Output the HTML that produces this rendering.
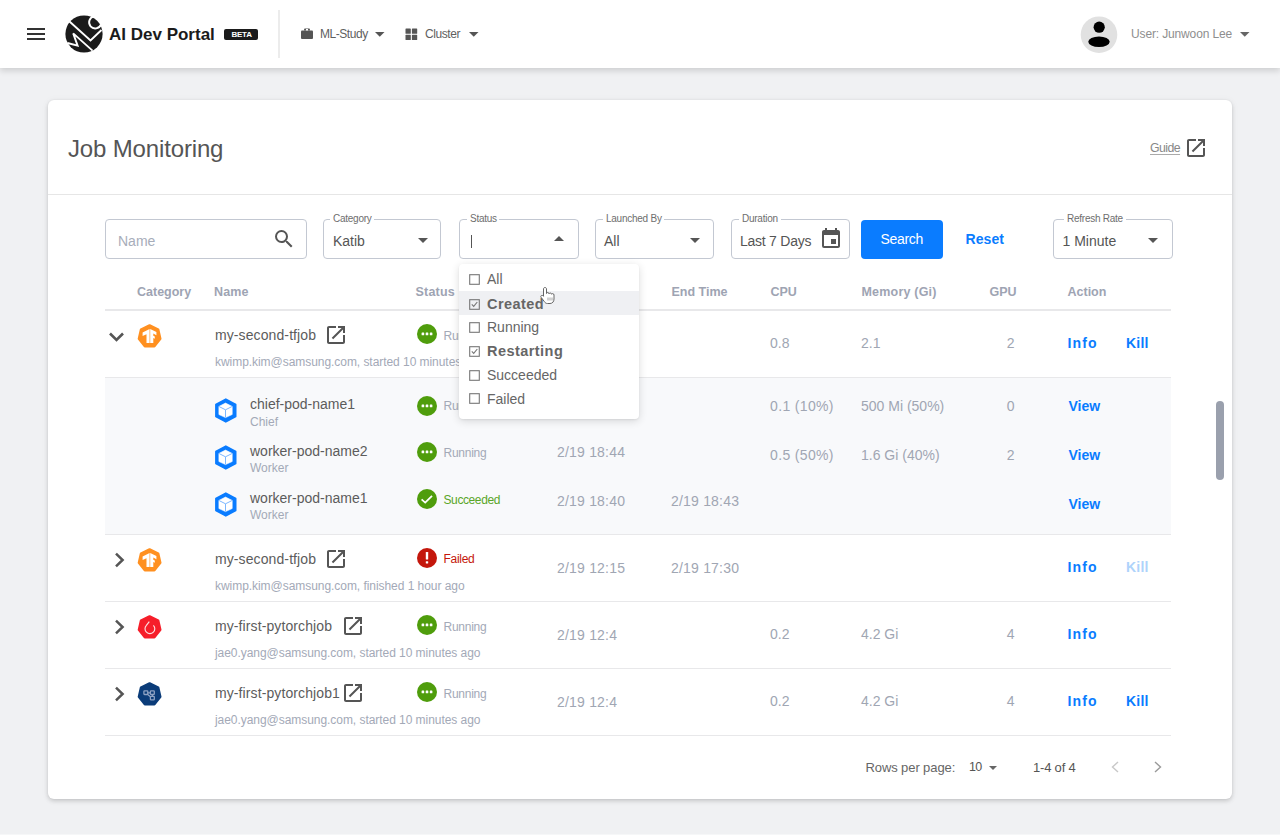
<!DOCTYPE html>
<html><head><meta charset="utf-8"><title>Job Monitoring</title>
<style>
html,body{margin:0;padding:0;}
body{width:1280px;height:835px;overflow:hidden;position:relative;background:#f0f1f3;font-family:"Liberation Sans","DejaVu Sans",sans-serif;}
.a{position:absolute;}
.t{position:absolute;white-space:nowrap;}
svg.a{overflow:visible}
</style></head><body>
<div class="a" style="left:0px;top:0px;width:1280px;height:68px;background:#fff;box-shadow:0 3px 6px rgba(0,0,0,0.14)"></div>
<div class="a" style="left:27px;top:28px;width:18px;height:2px;background:#333"></div>
<div class="a" style="left:27px;top:33px;width:18px;height:2px;background:#333"></div>
<div class="a" style="left:27px;top:38px;width:18px;height:2px;background:#333"></div>
<svg class="a" style="left:64px;top:14px" width="40" height="40" viewBox="0 0 40 40"><circle cx="20" cy="20" r="18.6" fill="#1b1b1b"/>
<g fill="none" stroke="#fff" stroke-width="1.9" stroke-linejoin="miter" stroke-linecap="butt">
<path d="M5.5 7.5 L26.5 26.5 L37.5 16"/>
<path d="M3.5 29 L13.6 31.6 L9.2 19.4 L28.5 36.6"/>
<path d="M29.9 2.4 A6.1 6.1 0 1 0 36.9 10.6"/>
</g></svg>
<span class="t " style="left:109px;top:26.20px;font-size:17px;line-height:17px;color:#1b1b1b;font-weight:700;">AI Dev Portal</span>
<div class="a" style="left:224px;top:28.5px;width:34px;height:11.5px;background:#1b1b1b;border-radius:2px"></div>
<span class="t " style="left:231.5px;top:31.10px;font-size:8px;line-height:8px;color:#fff;font-weight:700;letter-spacing:-0.25px;">BETA</span>
<div class="a" style="left:277.5px;top:10px;width:2px;height:48px;background:#ececec"></div>
<svg class="a" style="left:300px;top:27px" width="14" height="13" viewBox="0 0 14 13"><path d="M5 1.5h4a1 1 0 0 1 1 1V3.5H4V2.5a1 1 0 0 1 1-1z" fill="#555"/><rect x="1" y="3.5" width="12" height="8.5" rx="1" fill="#555"/><rect x="6" y="2" width="2" height="1.5" fill="#fff"/></svg>
<span class="t " style="left:320px;top:28.40px;font-size:12px;line-height:12px;color:#5f5f5f;letter-spacing:-0.45px;">ML-Study</span>
<svg class="a" style="left:375px;top:32px" width="10" height="5" viewBox="0 0 10 5"><path d="M0 0h9.5L4.75 4.7z" fill="#555"/></svg>
<svg class="a" style="left:405px;top:28px" width="13" height="13" viewBox="0 0 13 13"><rect x="0.5" y="0.5" width="5.3" height="5.3" rx="0.6" fill="#555"/><rect x="6.9" y="0.5" width="5.3" height="5.3" rx="0.6" fill="#555"/><rect x="0.5" y="6.8" width="5.3" height="5.3" rx="0.6" fill="#555"/><rect x="6.9" y="6.8" width="5.3" height="5.3" rx="0.6" fill="#555"/></svg>
<span class="t " style="left:425px;top:28.40px;font-size:12px;line-height:12px;color:#5f5f5f;letter-spacing:-0.43px;">Cluster</span>
<svg class="a" style="left:468.5px;top:32px" width="10" height="5" viewBox="0 0 10 5"><path d="M0 0h9.5L4.75 4.7z" fill="#555"/></svg>
<svg class="a" style="left:1080px;top:16px" width="38" height="38" viewBox="0 0 38 38"><circle cx="19" cy="18.7" r="18.3" fill="#e1e1e1"/><circle cx="19.2" cy="11.2" r="5.6" fill="#000"/><ellipse cx="19" cy="25.8" rx="10.7" ry="5.3" fill="#000"/></svg>
<span class="t " style="left:1131px;top:28.40px;font-size:12px;line-height:12px;color:#8e8e8e;letter-spacing:-0.14px;">User: Junwoon Lee</span>
<svg class="a" style="left:1239.5px;top:32.3px" width="10" height="5" viewBox="0 0 10 5"><path d="M0 0h9.5L4.75 4.7z" fill="#666"/></svg>
<div class="a" style="left:48px;top:100px;width:1184px;height:699px;background:#fff;border-radius:6px;box-shadow:0 2px 4px rgba(0,0,0,0.15), 0 1px 8px rgba(0,0,0,0.05), 0 0 2px rgba(0,0,0,0.05)"></div>
<span class="t " style="left:68px;top:136.90px;font-size:24px;line-height:24px;color:#555;letter-spacing:-0.15px;">Job Monitoring</span>
<span class="t " style="left:1150px;top:141.55px;font-size:12.3px;line-height:12.3px;color:#888;letter-spacing:-0.55px;text-decoration:underline;text-decoration-color:#aaa;text-underline-offset:2px;">Guide</span>
<svg class="a" style="left:1184px;top:136px" width="24" height="24" viewBox="0 0 24 24"><path d="M19 19H5V5h7V3H5c-1.11 0-2 .9-2 2v14c0 1.1.89 2 2 2h14c1.1 0 2-.9 2-2v-7h-2v7zM14 3v2h3.59l-9.83 9.83 1.41 1.41L19 6.41V10h2V3h-7z" fill="#555"/></svg>
<div class="a" style="left:48px;top:193.5px;width:1184px;height:1.5px;background:#e6e6e6"></div>
<div class="a" style="left:105px;top:219px;width:202px;height:40px;border:1px solid #c3c8d2;border-radius:4px;box-sizing:border-box;background:#fff"></div>
<span class="t " style="left:118px;top:233.60px;font-size:14px;line-height:14px;color:#a7adba;">Name</span>
<svg class="a" style="left:272px;top:227px" width="24" height="24" viewBox="0 0 24 24"><path d="M15.5 14h-.79l-.28-.27A6.471 6.471 0 0 0 16 9.5 6.5 6.5 0 1 0 9.5 16c1.61 0 3.09-.59 4.23-1.57l.27.28v.79l5 4.99L20.49 19l-4.99-5zm-6 0C7.01 14 5 11.99 5 9.5S7.01 5 9.5 5 14 7.01 14 9.5 11.99 14 9.5 14z" fill="#555"/></svg>
<div class="a" style="left:323px;top:219px;width:118px;height:40px;border:1px solid #c3c8d2;border-radius:4px;box-sizing:border-box;background:#fff"></div>
<div class="a" style="left:329.5px;top:217px;width:44px;height:4px;background:#fff"></div>
<span class="t " style="left:333px;top:213.70px;font-size:10px;line-height:10px;color:#6e6e6e;letter-spacing:-0.25px;">Category</span>
<span class="t " style="left:333px;top:233.50px;font-size:14px;line-height:14px;color:#555;">Katib</span>
<svg class="a" style="left:418px;top:238px" width="10" height="5" viewBox="0 0 10 5"><path d="M0 0h10L5 5z" fill="#555"/></svg>
<div class="a" style="left:459px;top:219px;width:120px;height:40px;border:1px solid #c3c8d2;border-radius:4px;box-sizing:border-box;background:#fff"></div>
<div class="a" style="left:466.5px;top:217px;width:32.5px;height:4px;background:#fff"></div>
<span class="t " style="left:470px;top:213.70px;font-size:10px;line-height:10px;color:#6e6e6e;letter-spacing:-0.25px;">Status</span>
<div class="a" style="left:470.5px;top:234.5px;width:1px;height:13px;background:#555"></div>
<svg class="a" style="left:554px;top:236px" width="10" height="5" viewBox="0 0 10 5"><path d="M0 5h10L5 0z" fill="#555"/></svg>
<div class="a" style="left:595px;top:219px;width:119px;height:40px;border:1px solid #c3c8d2;border-radius:4px;box-sizing:border-box;background:#fff"></div>
<div class="a" style="left:602.5px;top:217px;width:61.5px;height:4px;background:#fff"></div>
<span class="t " style="left:606px;top:213.70px;font-size:10px;line-height:10px;color:#6e6e6e;letter-spacing:-0.25px;">Launched By</span>
<span class="t " style="left:604px;top:233.50px;font-size:14px;line-height:14px;color:#555;">All</span>
<svg class="a" style="left:690px;top:238px" width="10" height="5" viewBox="0 0 10 5"><path d="M0 0h10L5 5z" fill="#555"/></svg>
<div class="a" style="left:731px;top:219px;width:119px;height:40px;border:1px solid #c3c8d2;border-radius:4px;box-sizing:border-box;background:#fff"></div>
<div class="a" style="left:738.5px;top:217px;width:42px;height:4px;background:#fff"></div>
<span class="t " style="left:742px;top:213.70px;font-size:10px;line-height:10px;color:#6e6e6e;letter-spacing:-0.25px;">Duration</span>
<span class="t " style="left:740px;top:233.50px;font-size:14px;line-height:14px;color:#555;letter-spacing:-0.25px;">Last 7 Days</span>
<svg class="a" style="left:819px;top:227px" width="24" height="24" viewBox="0 0 24 24"><path d="M17 12h-5v5h5v-5zM16 1v2H8V1H6v2H5c-1.11 0-1.99.9-1.99 2L3 19a2 2 0 0 0 2 2h14c1.1 0 2-.9 2-2V5c0-1.1-.9-2-2-2h-1V1h-2zm3 18H5V8h14v11z" fill="#555"/></svg>
<div class="a" style="left:861px;top:219.5px;width:82px;height:39.5px;background:#0a7cff;border-radius:4px"></div>
<span class="t " style="left:880.5px;top:231.80px;font-size:14px;line-height:14px;color:#fff;letter-spacing:-0.3px;">Search</span>
<span class="t " style="left:965.5px;top:231.80px;font-size:14px;line-height:14px;color:#0a7cff;font-weight:700;letter-spacing:0.1px;">Reset</span>
<div class="a" style="left:1053px;top:219px;width:120px;height:40px;border:1px solid #c3c8d2;border-radius:4px;box-sizing:border-box;background:#fff"></div>
<div class="a" style="left:1063.5px;top:217px;width:62px;height:4px;background:#fff"></div>
<span class="t " style="left:1067px;top:213.70px;font-size:10px;line-height:10px;color:#6e6e6e;letter-spacing:-0.25px;">Refresh Rate</span>
<span class="t " style="left:1062.5px;top:233.50px;font-size:14px;line-height:14px;color:#555;">1 Minute</span>
<svg class="a" style="left:1148px;top:238px" width="10" height="5" viewBox="0 0 10 5"><path d="M0 0h10L5 5z" fill="#555"/></svg>
<span class="t " style="left:137px;top:285.75px;font-size:12.5px;line-height:12.5px;color:#9ea4b3;font-weight:700;">Category</span>
<span class="t " style="left:214px;top:285.75px;font-size:12.5px;line-height:12.5px;color:#9ea4b3;font-weight:700;letter-spacing:0.1px;">Name</span>
<span class="t " style="left:415.5px;top:285.75px;font-size:12.5px;line-height:12.5px;color:#9ea4b3;font-weight:700;letter-spacing:0.2px;">Status</span>
<span class="t " style="left:671.5px;top:285.75px;font-size:12.5px;line-height:12.5px;color:#9ea4b3;font-weight:700;">End Time</span>
<span class="t " style="left:770.5px;top:285.75px;font-size:12.5px;line-height:12.5px;color:#9ea4b3;font-weight:700;">CPU</span>
<span class="t " style="left:861.5px;top:285.75px;font-size:12.5px;line-height:12.5px;color:#9ea4b3;font-weight:700;letter-spacing:0.2px;">Memory (Gi)</span>
<span class="t " style="left:989.5px;top:285.75px;font-size:12.5px;line-height:12.5px;color:#9ea4b3;font-weight:700;">GPU</span>
<span class="t " style="left:1067.5px;top:285.75px;font-size:12.5px;line-height:12.5px;color:#9ea4b3;font-weight:700;">Action</span>
<div class="a" style="left:105px;top:309px;width:1066px;height:1.5px;background:#e8e8ea"></div>
<div class="a" style="left:105px;top:377.5px;width:1066px;height:156px;background:#f8f9fb"></div>
<div class="a" style="left:105px;top:376.5px;width:1066px;height:1.5px;background:#e8e8ea"></div>
<div class="a" style="left:105px;top:533.5px;width:1066px;height:1.5px;background:#e8e8ea"></div>
<div class="a" style="left:105px;top:600.5px;width:1066px;height:1.5px;background:#e8e8ea"></div>
<div class="a" style="left:105px;top:667.5px;width:1066px;height:1.5px;background:#e8e8ea"></div>
<div class="a" style="left:105px;top:734.5px;width:1066px;height:1.5px;background:#e8e8ea"></div>
<svg class="a" style="left:107.5px;top:330.7px" width="18" height="12" viewBox="0 0 18 12"><path d="M2 2.5 L8.5 9 L15 2.5" fill="none" stroke="#555" stroke-width="2.6"/></svg>
<svg class="a" style="left:136.5px;top:322.6px" width="26" height="26" viewBox="0 0 26 26"><polygon points="12.60,2.40 21.20,6.54 23.32,15.85 17.37,23.31 7.83,23.31 1.88,15.85 4.00,6.54" fill="#ff9020" stroke="#ff9020" stroke-width="2.4" stroke-linejoin="round"/><path d="M5.6 9.4 L12.6 5.9 L12.6 20 L9.5 20 L9.5 11.2 L5.6 13.0 Z" fill="#fff"/><path d="M13.2 5.9 L19.4 9.1 L19.4 12.2 L16.3 10.6 L16.3 12.7 L17.8 13.4 L17.8 15.7 L16.3 14.9 L16.3 20 L13.2 20 Z" fill="#fff"/></svg>
<span class="t " style="left:215px;top:327.80px;font-size:14px;line-height:14px;color:#5c5c5c;letter-spacing:0.1px;">my-second-tfjob</span>
<svg class="a" style="left:324px;top:323px" width="24" height="24" viewBox="0 0 24 24"><path d="M19 19H5V5h7V3H5c-1.11 0-2 .9-2 2v14c0 1.1.89 2 2 2h14c1.1 0 2-.9 2-2v-7h-2v7zM14 3v2h3.59l-9.83 9.83 1.41 1.41L19 6.41V10h2V3h-7z" fill="#555"/></svg>
<span class="t " style="left:215px;top:356.00px;font-size:12px;line-height:12px;color:#a3a9b7;letter-spacing:-0.05px;">kwimp.kim@samsung.com, started 10 minutes ago</span>
<svg class="a" style="left:416px;top:323.4px" width="22" height="22" viewBox="0 0 22 22"><circle cx="11" cy="11" r="10" fill="#4f9d0c"/><g fill="#fff"><rect x="5.6" y="9.6" width="2.6" height="2.6" rx="0.5"/><rect x="9.7" y="9.6" width="2.6" height="2.6" rx="0.5"/><rect x="13.8" y="9.6" width="2.6" height="2.6" rx="0.5"/></g></svg>
<span class="t " style="left:443.5px;top:329.50px;font-size:12px;line-height:12px;color:#a3a9b7;letter-spacing:-0.25px;">Running</span>
<span class="t " style="left:770px;top:335.50px;font-size:14px;line-height:14px;color:#a0a6b3;">0.8</span>
<span class="t " style="left:861px;top:335.50px;font-size:14px;line-height:14px;color:#a0a6b3;">2.1</span>
<span class="t" style="right:265.5px;top:335.50px;font-size:14px;line-height:14px;color:#a0a6b3;">2</span>
<span class="t " style="left:1067.6px;top:335.80px;font-size:14px;line-height:14px;color:#0a7cff;font-weight:700;letter-spacing:1.1px;">Info</span>
<span class="t " style="left:1126px;top:335.50px;font-size:14px;line-height:14px;color:#0a7cff;font-weight:700;letter-spacing:0.2px;">Kill</span>
<svg class="a" style="left:113.6px;top:551.8px" width="12" height="16" viewBox="0 0 12 16"><path d="M2 1.6 L8.6 8 L2 14.4" fill="none" stroke="#555" stroke-width="2.5"/></svg>
<svg class="a" style="left:136.5px;top:546.6px" width="26" height="26" viewBox="0 0 26 26"><polygon points="12.60,2.40 21.20,6.54 23.32,15.85 17.37,23.31 7.83,23.31 1.88,15.85 4.00,6.54" fill="#ff9020" stroke="#ff9020" stroke-width="2.4" stroke-linejoin="round"/><path d="M5.6 9.4 L12.6 5.9 L12.6 20 L9.5 20 L9.5 11.2 L5.6 13.0 Z" fill="#fff"/><path d="M13.2 5.9 L19.4 9.1 L19.4 12.2 L16.3 10.6 L16.3 12.7 L17.8 13.4 L17.8 15.7 L16.3 14.9 L16.3 20 L13.2 20 Z" fill="#fff"/></svg>
<span class="t " style="left:215px;top:551.80px;font-size:14px;line-height:14px;color:#5c5c5c;letter-spacing:0.1px;">my-second-tfjob</span>
<svg class="a" style="left:324px;top:547px" width="24" height="24" viewBox="0 0 24 24"><path d="M19 19H5V5h7V3H5c-1.11 0-2 .9-2 2v14c0 1.1.89 2 2 2h14c1.1 0 2-.9 2-2v-7h-2v7zM14 3v2h3.59l-9.83 9.83 1.41 1.41L19 6.41V10h2V3h-7z" fill="#555"/></svg>
<span class="t " style="left:215px;top:580.00px;font-size:12px;line-height:12px;color:#a3a9b7;letter-spacing:-0.05px;">kwimp.kim@samsung.com, finished 1 hour ago</span>
<svg class="a" style="left:416px;top:547.2px" width="22" height="22" viewBox="0 0 22 22"><circle cx="11" cy="11" r="10" fill="#c4170c"/><rect x="9.8" y="5" width="2.4" height="7.6" rx="0.6" fill="#fff"/><rect x="9.8" y="14.2" width="2.4" height="2.4" rx="0.6" fill="#fff"/></svg>
<span class="t " style="left:443.5px;top:553.20px;font-size:12px;line-height:12px;color:#c4170c;letter-spacing:-0.3px;">Failed</span>
<span class="t " style="left:557px;top:560.70px;font-size:14px;line-height:14px;color:#a0a6b3;letter-spacing:0.2px;">2/19 12:15</span>
<span class="t " style="left:671px;top:560.70px;font-size:14px;line-height:14px;color:#a0a6b3;letter-spacing:0.2px;">2/19 17:30</span>
<span class="t " style="left:1067.6px;top:559.80px;font-size:14px;line-height:14px;color:#0a7cff;font-weight:700;letter-spacing:1.1px;">Info</span>
<span class="t " style="left:1126px;top:559.50px;font-size:14px;line-height:14px;color:#aed3fb;font-weight:700;letter-spacing:0.2px;">Kill</span>
<svg class="a" style="left:113.6px;top:618.8px" width="12" height="16" viewBox="0 0 12 16"><path d="M2 1.6 L8.6 8 L2 14.4" fill="none" stroke="#555" stroke-width="2.5"/></svg>
<svg class="a" style="left:136.5px;top:613.6px" width="26" height="26" viewBox="0 0 26 26"><polygon points="12.60,2.40 21.20,6.54 23.32,15.85 17.37,23.31 7.83,23.31 1.88,15.85 4.00,6.54" fill="#f61e2a" stroke="#f61e2a" stroke-width="2.4" stroke-linejoin="round"/><path d="M12.3 7.6 L9.4 11.3 A4.9 4.9 0 1 0 16.4 11.3" fill="none" stroke="#fff" stroke-opacity="0.85" stroke-width="1.15" stroke-linejoin="round"/></svg>
<span class="t " style="left:215px;top:618.80px;font-size:14px;line-height:14px;color:#5c5c5c;letter-spacing:0.1px;">my-first-pytorchjob</span>
<svg class="a" style="left:340.7px;top:614px" width="24" height="24" viewBox="0 0 24 24"><path d="M19 19H5V5h7V3H5c-1.11 0-2 .9-2 2v14c0 1.1.89 2 2 2h14c1.1 0 2-.9 2-2v-7h-2v7zM14 3v2h3.59l-9.83 9.83 1.41 1.41L19 6.41V10h2V3h-7z" fill="#555"/></svg>
<span class="t " style="left:215px;top:647.00px;font-size:12px;line-height:12px;color:#a3a9b7;letter-spacing:-0.05px;">jae0.yang@samsung.com, started 10 minutes ago</span>
<svg class="a" style="left:416px;top:614.4px" width="22" height="22" viewBox="0 0 22 22"><circle cx="11" cy="11" r="10" fill="#4f9d0c"/><g fill="#fff"><rect x="5.6" y="9.6" width="2.6" height="2.6" rx="0.5"/><rect x="9.7" y="9.6" width="2.6" height="2.6" rx="0.5"/><rect x="13.8" y="9.6" width="2.6" height="2.6" rx="0.5"/></g></svg>
<span class="t " style="left:443.5px;top:620.50px;font-size:12px;line-height:12px;color:#a3a9b7;letter-spacing:-0.25px;">Running</span>
<span class="t " style="left:557px;top:627.70px;font-size:14px;line-height:14px;color:#a0a6b3;letter-spacing:0.2px;">2/19 12:4</span>
<span class="t " style="left:770px;top:626.50px;font-size:14px;line-height:14px;color:#a0a6b3;">0.2</span>
<span class="t " style="left:861px;top:626.50px;font-size:14px;line-height:14px;color:#a0a6b3;">4.2 Gi</span>
<span class="t" style="right:265.5px;top:626.50px;font-size:14px;line-height:14px;color:#a0a6b3;">4</span>
<span class="t " style="left:1067.6px;top:626.80px;font-size:14px;line-height:14px;color:#0a7cff;font-weight:700;letter-spacing:1.1px;">Info</span>
<svg class="a" style="left:113.6px;top:685.8px" width="12" height="16" viewBox="0 0 12 16"><path d="M2 1.6 L8.6 8 L2 14.4" fill="none" stroke="#555" stroke-width="2.5"/></svg>
<svg class="a" style="left:136.5px;top:680.6px" width="26" height="26" viewBox="0 0 26 26"><polygon points="12.60,2.40 21.20,6.54 23.32,15.85 17.37,23.31 7.83,23.31 1.88,15.85 4.00,6.54" fill="#0b3c79" stroke="#0b3c79" stroke-width="2.4" stroke-linejoin="round"/><g fill="none" stroke="#8ea2c4" stroke-width="1.3"><rect x="6.9" y="9.9" width="3.9" height="3.6" rx="0.7"/><rect x="13.4" y="9.9" width="3.9" height="3.6" rx="0.7"/><rect x="13.4" y="15.3" width="3.9" height="3.6" rx="0.7"/><path d="M10.5 11.9 H13.6 M15.4 13.6 V15.6 M10.3 13.3 L13.8 15.9"/></g></svg>
<span class="t " style="left:215px;top:685.80px;font-size:14px;line-height:14px;color:#5c5c5c;letter-spacing:0.1px;">my-first-pytorchjob1</span>
<svg class="a" style="left:340.7px;top:681px" width="24" height="24" viewBox="0 0 24 24"><path d="M19 19H5V5h7V3H5c-1.11 0-2 .9-2 2v14c0 1.1.89 2 2 2h14c1.1 0 2-.9 2-2v-7h-2v7zM14 3v2h3.59l-9.83 9.83 1.41 1.41L19 6.41V10h2V3h-7z" fill="#555"/></svg>
<span class="t " style="left:215px;top:714.00px;font-size:12px;line-height:12px;color:#a3a9b7;letter-spacing:-0.05px;">jae0.yang@samsung.com, started 10 minutes ago</span>
<svg class="a" style="left:416px;top:681.4px" width="22" height="22" viewBox="0 0 22 22"><circle cx="11" cy="11" r="10" fill="#4f9d0c"/><g fill="#fff"><rect x="5.6" y="9.6" width="2.6" height="2.6" rx="0.5"/><rect x="9.7" y="9.6" width="2.6" height="2.6" rx="0.5"/><rect x="13.8" y="9.6" width="2.6" height="2.6" rx="0.5"/></g></svg>
<span class="t " style="left:443.5px;top:687.50px;font-size:12px;line-height:12px;color:#a3a9b7;letter-spacing:-0.25px;">Running</span>
<span class="t " style="left:557px;top:694.70px;font-size:14px;line-height:14px;color:#a0a6b3;letter-spacing:0.2px;">2/19 12:4</span>
<span class="t " style="left:770px;top:693.50px;font-size:14px;line-height:14px;color:#a0a6b3;">0.2</span>
<span class="t " style="left:861px;top:693.50px;font-size:14px;line-height:14px;color:#a0a6b3;">4.2 Gi</span>
<span class="t" style="right:265.5px;top:693.50px;font-size:14px;line-height:14px;color:#a0a6b3;">4</span>
<span class="t " style="left:1067.6px;top:693.80px;font-size:14px;line-height:14px;color:#0a7cff;font-weight:700;letter-spacing:1.1px;">Info</span>
<span class="t " style="left:1126px;top:693.50px;font-size:14px;line-height:14px;color:#0a7cff;font-weight:700;letter-spacing:0.2px;">Kill</span>
<svg class="a" style="left:214px;top:396.5px" width="24" height="26" viewBox="0 0 24 26"><path d="M11.8 2.1 L21.7 7.5 V19.5 L11.8 24.9 L1.9 19.5 V7.5 Z" fill="#0a7cff" stroke="#0a7cff" stroke-width="1.6" stroke-linejoin="round"/><path d="M11.5 6.1 L18.2 9.4 V17.5 L11.5 20.6 L4.9 17.5 V9.4 Z" fill="#fff" stroke="#fff" stroke-width="0.6" stroke-linejoin="round"/><path d="M5.2 9.6 L11.5 12.8 L17.9 9.6 M11.5 12.8 V20.4" fill="none" stroke="#7db8ff" stroke-width="1"/></svg>
<span class="t " style="left:250px;top:397.10px;font-size:14px;line-height:14px;color:#5c5c5c;">chief-pod-name1</span>
<span class="t " style="left:250px;top:416.00px;font-size:12px;line-height:12px;color:#a3a9b7;">Chief</span>
<svg class="a" style="left:416px;top:394.5px" width="22" height="22" viewBox="0 0 22 22"><circle cx="11" cy="11" r="10" fill="#4f9d0c"/><g fill="#fff"><rect x="5.6" y="9.6" width="2.6" height="2.6" rx="0.5"/><rect x="9.7" y="9.6" width="2.6" height="2.6" rx="0.5"/><rect x="13.8" y="9.6" width="2.6" height="2.6" rx="0.5"/></g></svg>
<span class="t " style="left:443.5px;top:400.30px;font-size:12px;line-height:12px;color:#a3a9b7;letter-spacing:-0.25px;">Running</span>
<span class="t " style="left:770px;top:399.20px;font-size:14px;line-height:14px;color:#a0a6b3;letter-spacing:0.35px;">0.1 (10%)</span>
<span class="t " style="left:861px;top:399.20px;font-size:14px;line-height:14px;color:#a0a6b3;">500 Mi (50%)</span>
<span class="t" style="right:265.5px;top:399.20px;font-size:14px;line-height:14px;color:#a0a6b3;">0</span>
<span class="t " style="left:1068.5px;top:399.20px;font-size:14px;line-height:14px;color:#0a7cff;font-weight:700;">View</span>
<svg class="a" style="left:214px;top:443.5px" width="24" height="26" viewBox="0 0 24 26"><path d="M11.8 2.1 L21.7 7.5 V19.5 L11.8 24.9 L1.9 19.5 V7.5 Z" fill="#0a7cff" stroke="#0a7cff" stroke-width="1.6" stroke-linejoin="round"/><path d="M11.5 6.1 L18.2 9.4 V17.5 L11.5 20.6 L4.9 17.5 V9.4 Z" fill="#fff" stroke="#fff" stroke-width="0.6" stroke-linejoin="round"/><path d="M5.2 9.6 L11.5 12.8 L17.9 9.6 M11.5 12.8 V20.4" fill="none" stroke="#7db8ff" stroke-width="1"/></svg>
<span class="t " style="left:250px;top:444.00px;font-size:14px;line-height:14px;color:#5c5c5c;">worker-pod-name2</span>
<span class="t " style="left:250px;top:462.40px;font-size:12px;line-height:12px;color:#a3a9b7;">Worker</span>
<svg class="a" style="left:416px;top:441.4px" width="22" height="22" viewBox="0 0 22 22"><circle cx="11" cy="11" r="10" fill="#4f9d0c"/><g fill="#fff"><rect x="5.6" y="9.6" width="2.6" height="2.6" rx="0.5"/><rect x="9.7" y="9.6" width="2.6" height="2.6" rx="0.5"/><rect x="13.8" y="9.6" width="2.6" height="2.6" rx="0.5"/></g></svg>
<span class="t " style="left:443.5px;top:447.20px;font-size:12px;line-height:12px;color:#a3a9b7;letter-spacing:-0.25px;">Running</span>
<span class="t " style="left:557px;top:445.20px;font-size:14px;line-height:14px;color:#a0a6b3;letter-spacing:0.2px;">2/19 18:44</span>
<span class="t " style="left:770px;top:448.20px;font-size:14px;line-height:14px;color:#a0a6b3;letter-spacing:0.35px;">0.5 (50%)</span>
<span class="t " style="left:861px;top:448.20px;font-size:14px;line-height:14px;color:#a0a6b3;">1.6 Gi (40%)</span>
<span class="t" style="right:265.5px;top:448.20px;font-size:14px;line-height:14px;color:#a0a6b3;">2</span>
<span class="t " style="left:1068.5px;top:448.20px;font-size:14px;line-height:14px;color:#0a7cff;font-weight:700;">View</span>
<svg class="a" style="left:214px;top:490.5px" width="24" height="26" viewBox="0 0 24 26"><path d="M11.8 2.1 L21.7 7.5 V19.5 L11.8 24.9 L1.9 19.5 V7.5 Z" fill="#0a7cff" stroke="#0a7cff" stroke-width="1.6" stroke-linejoin="round"/><path d="M11.5 6.1 L18.2 9.4 V17.5 L11.5 20.6 L4.9 17.5 V9.4 Z" fill="#fff" stroke="#fff" stroke-width="0.6" stroke-linejoin="round"/><path d="M5.2 9.6 L11.5 12.8 L17.9 9.6 M11.5 12.8 V20.4" fill="none" stroke="#7db8ff" stroke-width="1"/></svg>
<span class="t " style="left:250px;top:490.90px;font-size:14px;line-height:14px;color:#5c5c5c;">worker-pod-name1</span>
<span class="t " style="left:250px;top:509.30px;font-size:12px;line-height:12px;color:#a3a9b7;">Worker</span>
<svg class="a" style="left:416px;top:488.2px" width="22" height="22" viewBox="0 0 22 22"><circle cx="11" cy="11" r="10" fill="#4f9d0c"/><path d="M5.6 11.4 L9.2 14.6 L16.0 7.8" fill="none" stroke="#fff" stroke-width="1.8"/></svg>
<span class="t " style="left:443.5px;top:494.00px;font-size:12px;line-height:12px;color:#5aa628;letter-spacing:-0.4px;">Succeeded</span>
<span class="t " style="left:557px;top:493.50px;font-size:14px;line-height:14px;color:#a0a6b3;letter-spacing:0.2px;">2/19 18:40</span>
<span class="t " style="left:671px;top:493.50px;font-size:14px;line-height:14px;color:#a0a6b3;letter-spacing:0.2px;">2/19 18:43</span>
<span class="t " style="left:1068.5px;top:496.50px;font-size:14px;line-height:14px;color:#0a7cff;font-weight:700;">View</span>
<div class="a" style="left:1216px;top:401px;width:8px;height:79px;background:#9aa0ad;border-radius:4px"></div>
<div class="a" style="left:0px;top:833.5px;width:1280px;height:1.5px;background:#f6f7f8"></div>
<span class="t " style="left:865.5px;top:761.00px;font-size:13px;line-height:13px;color:#666;letter-spacing:-0.1px;font-family:"Liberation Sans",Arial,sans-serif;">Rows per page:</span>
<span class="t " style="left:969px;top:761.25px;font-size:12.5px;line-height:12.5px;color:#555;letter-spacing:-0.6px;">10</span>
<svg class="a" style="left:988.5px;top:766px" width="8" height="4" viewBox="0 0 8 4"><path d="M0 0h8L4 4z" fill="#666"/></svg>
<span class="t " style="left:1033px;top:761.00px;font-size:13px;line-height:13px;color:#555;letter-spacing:-0.2px;">1-4 of 4</span>
<svg class="a" style="left:1109px;top:760px" width="12" height="14" viewBox="0 0 12 14"><path d="M9 2 L3.5 7 L9 12" fill="none" stroke="#c8c8c8" stroke-width="1.4"/></svg>
<svg class="a" style="left:1152px;top:760px" width="12" height="14" viewBox="0 0 12 14"><path d="M3 2 L8.5 7 L3 12" fill="none" stroke="#9a9a9a" stroke-width="1.4"/></svg>
<div class="a" style="left:459px;top:264px;width:180px;height:154.5px;background:#fff;border-radius:4px;box-shadow:0 2px 8px rgba(0,0,0,0.14), 0 1px 2px rgba(0,0,0,0.06)"></div>
<div class="a" style="left:459px;top:291px;width:180px;height:24px;background:#eff0f3"></div>
<svg class="a" style="left:469px;top:274.0px" width="11" height="11" viewBox="0 0 11 11"><rect x="0.7" y="0.7" width="9.6" height="9.6" fill="none" stroke="#777" stroke-width="1.1"/></svg>
<span class="t " style="left:487px;top:272.20px;font-size:14px;line-height:14px;color:#666;">All</span>
<svg class="a"  style="left:469px;top:299.2px" width="11" height="11" viewBox="0 0 11 11"><rect x="0.7" y="0.7" width="9.6" height="9.6" fill="none" stroke="#777" stroke-width="1.1"/><path d="M2.8 5.4 L4.7 7.4 L8.3 3" fill="none" stroke="#777" stroke-width="1.1"/></svg>
<span class="t " style="left:487px;top:297.15px;font-size:14.5px;line-height:14.5px;color:#666;font-weight:700;letter-spacing:0.45px;">Created</span>
<svg class="a" style="left:469px;top:322.0px" width="11" height="11" viewBox="0 0 11 11"><rect x="0.7" y="0.7" width="9.6" height="9.6" fill="none" stroke="#777" stroke-width="1.1"/></svg>
<span class="t " style="left:487px;top:320.20px;font-size:14px;line-height:14px;color:#666;">Running</span>
<svg class="a"  style="left:469px;top:345.8px" width="11" height="11" viewBox="0 0 11 11"><rect x="0.7" y="0.7" width="9.6" height="9.6" fill="none" stroke="#777" stroke-width="1.1"/><path d="M2.8 5.4 L4.7 7.4 L8.3 3" fill="none" stroke="#777" stroke-width="1.1"/></svg>
<span class="t " style="left:487px;top:343.75px;font-size:14.5px;line-height:14.5px;color:#666;font-weight:700;letter-spacing:0.45px;">Restarting</span>
<svg class="a" style="left:469px;top:369.6px" width="11" height="11" viewBox="0 0 11 11"><rect x="0.7" y="0.7" width="9.6" height="9.6" fill="none" stroke="#777" stroke-width="1.1"/></svg>
<span class="t " style="left:487px;top:367.80px;font-size:14px;line-height:14px;color:#666;">Succeeded</span>
<svg class="a" style="left:469px;top:393.40000000000003px" width="11" height="11" viewBox="0 0 11 11"><rect x="0.7" y="0.7" width="9.6" height="9.6" fill="none" stroke="#777" stroke-width="1.1"/></svg>
<span class="t " style="left:487px;top:391.60px;font-size:14px;line-height:14px;color:#666;">Failed</span>
<svg class="a" style="left:540.4px;top:286.5px" width="16" height="18" viewBox="0 0 16 18"><path d="M3.5 2 C3.5 1 4.2 0.5 5 0.5 C5.8 0.5 6.5 1 6.5 2 V6.5 C6.6 5.8 7.2 5.5 7.8 5.5 C8.5 5.5 9 6 9 6.8 C9.2 6.2 9.7 6 10.3 6 C11 6 11.5 6.5 11.5 7.2 C11.7 6.8 12.2 6.6 12.7 6.6 C13.5 6.6 14 7.2 14 8 V12 C14 14.5 12.5 16.5 10 16.5 H7.5 C6 16.5 5.2 15.8 4.5 14.8 L1 10.2 C0.6 9.6 0.8 8.8 1.5 8.5 C2.2 8.2 2.9 8.5 3.5 9.3 Z" fill="#fff" stroke="#666" stroke-width="1"/><path d="M8 10.5 V13.5 M10 10.5 V13.5 M12 10.5 V13.5" stroke="#999" stroke-width="0.9"/></svg>
</body></html>
